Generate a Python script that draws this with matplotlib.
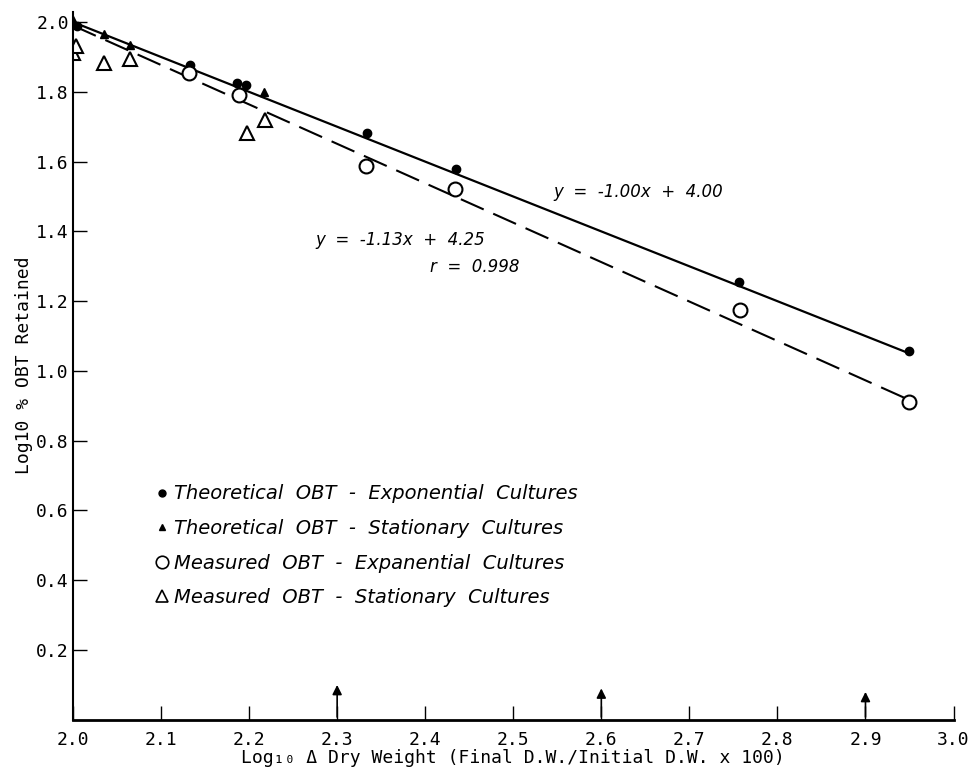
import numpy as np
import matplotlib
matplotlib.use("Agg")
import matplotlib.pyplot as plt
from matplotlib.lines import Line2D

# datos
theo_exp_x = [2.005, 2.133, 2.186, 2.197, 2.334, 2.435, 2.756, 2.949]
theo_exp_y = [1.99, 1.878, 1.826, 1.82, 1.682, 1.578, 1.255, 1.058]

theo_sta_x = [2.0, 2.035, 2.065, 2.217]
theo_sta_y = [2.005, 1.965, 1.935, 1.80]

meas_exp_x = [2.132, 2.188, 2.333, 2.434, 2.758, 2.949]
meas_exp_y = [1.854, 1.79, 1.587, 1.522, 1.176, 0.912]

meas_sta_x = [2.0, 2.003, 2.035, 2.065, 2.198, 2.218]
meas_sta_y = [1.912, 1.932, 1.882, 1.893, 1.681, 1.718]

# rectas de regresion
THEO_M, THEO_B = -1.00, 4.00
MEAS_M, MEAS_B = -1.13, 4.25
theo_line_x = np.array([2.0, 2.95])
meas_line_x = np.array([2.0, 2.945])

# flechas sobre el eje x
arrow_x = [2.3, 2.6, 2.9]
arrow_h = [0.108, 0.098, 0.088]

x_ticks = [2.0, 2.1, 2.2, 2.3, 2.4, 2.5, 2.6, 2.7, 2.8, 2.9, 3.0]
y_ticks = [0.2, 0.4, 0.6, 0.8, 1.0, 1.2, 1.4, 1.6, 1.8, 2.0]

MONO = "DejaVu Sans Mono"

fig = plt.figure(figsize=(9.73, 7.74), dpi=100)
ax = fig.add_axes([0.075, 0.07, 0.905, 0.915])

ax.plot(theo_line_x, THEO_M * theo_line_x + THEO_B, "-", color="black", lw=1.6)
ax.plot(meas_line_x, MEAS_M * meas_line_x + MEAS_B, color="black", lw=1.5,
        dashes=(12, 5))

ax.plot(theo_exp_x, theo_exp_y, "o", color="black", ms=6, ls="none")
ax.plot(theo_sta_x, theo_sta_y, "^", color="black", ms=6, ls="none")
ax.plot(meas_exp_x, meas_exp_y, "o", mfc="white", mec="black", mew=1.5,
        ms=10, ls="none")
ax.plot(meas_sta_x, meas_sta_y, "^", mfc="white", mec="black", mew=1.5,
        ms=10, ls="none")

for x, h in zip(arrow_x, arrow_h):
  ax.annotate("", xy=(x, h), xytext=(x, 0),
              arrowprops=dict(arrowstyle="-|>", color="black", lw=1.2,
                              mutation_scale=14))

ax.text(2.546, 1.50, "y  =  -1.00x  +  4.00", fontsize=12, style="italic")
ax.text(2.275, 1.36, "y  =  -1.13x  +  4.25", fontsize=12, style="italic")
ax.text(2.405, 1.285, "r  =  0.998", fontsize=12, style="italic")

handles = [
  Line2D([], [], marker="o", color="black", ms=5, ls="none"),
  Line2D([], [], marker="^", color="black", ms=5, ls="none"),
  Line2D([], [], marker="o", mfc="white", mec="black", mew=1.2, ms=9, ls="none"),
  Line2D([], [], marker="^", mfc="white", mec="black", mew=1.2, ms=9, ls="none"),
]
labels = [
  "Theoretical  OBT  -  Exponential  Cultures",
  "Theoretical  OBT  -  Stationary  Cultures",
  "Measured  OBT  -  Expanential  Cultures",
  "Measured  OBT  -  Stationary  Cultures",
]
leg = ax.legend(handles, labels, loc="upper left", bbox_to_anchor=(0.075, 0.357),
                frameon=False, handlelength=0.6, handletextpad=0.3,
                labelspacing=0.8, prop=dict(size=14, style="italic"))

ax.set_xlim(2.0, 3.0)
ax.set_ylim(0, 2.03)
ax.set_xticks(x_ticks)
ax.set_xticklabels([f"{v:.1f}" for v in x_ticks], family=MONO, fontsize=13)
ax.set_yticks(y_ticks)
ax.set_yticklabels([f"{v:.1f}" for v in y_ticks], family=MONO, fontsize=13)
ax.tick_params(direction="in", length=10, width=1.0, pad=3)
ax.tick_params(axis="x", pad=8)

ax.spines["top"].set_visible(False)
ax.spines["right"].set_visible(False)
ax.spines["left"].set_linewidth(1.5)
ax.spines["bottom"].set_linewidth(2.0)

ax.set_xlabel("Log\u2081\u2080 \u0394 Dry Weight (Final D.W./Initial D.W. x 100)",
              family=MONO, fontsize=13, labelpad=0)
ax.set_ylabel("Log10 % OBT Retained", family=MONO, fontsize=13, labelpad=2)

fig.savefig("out.png", dpi=100)
